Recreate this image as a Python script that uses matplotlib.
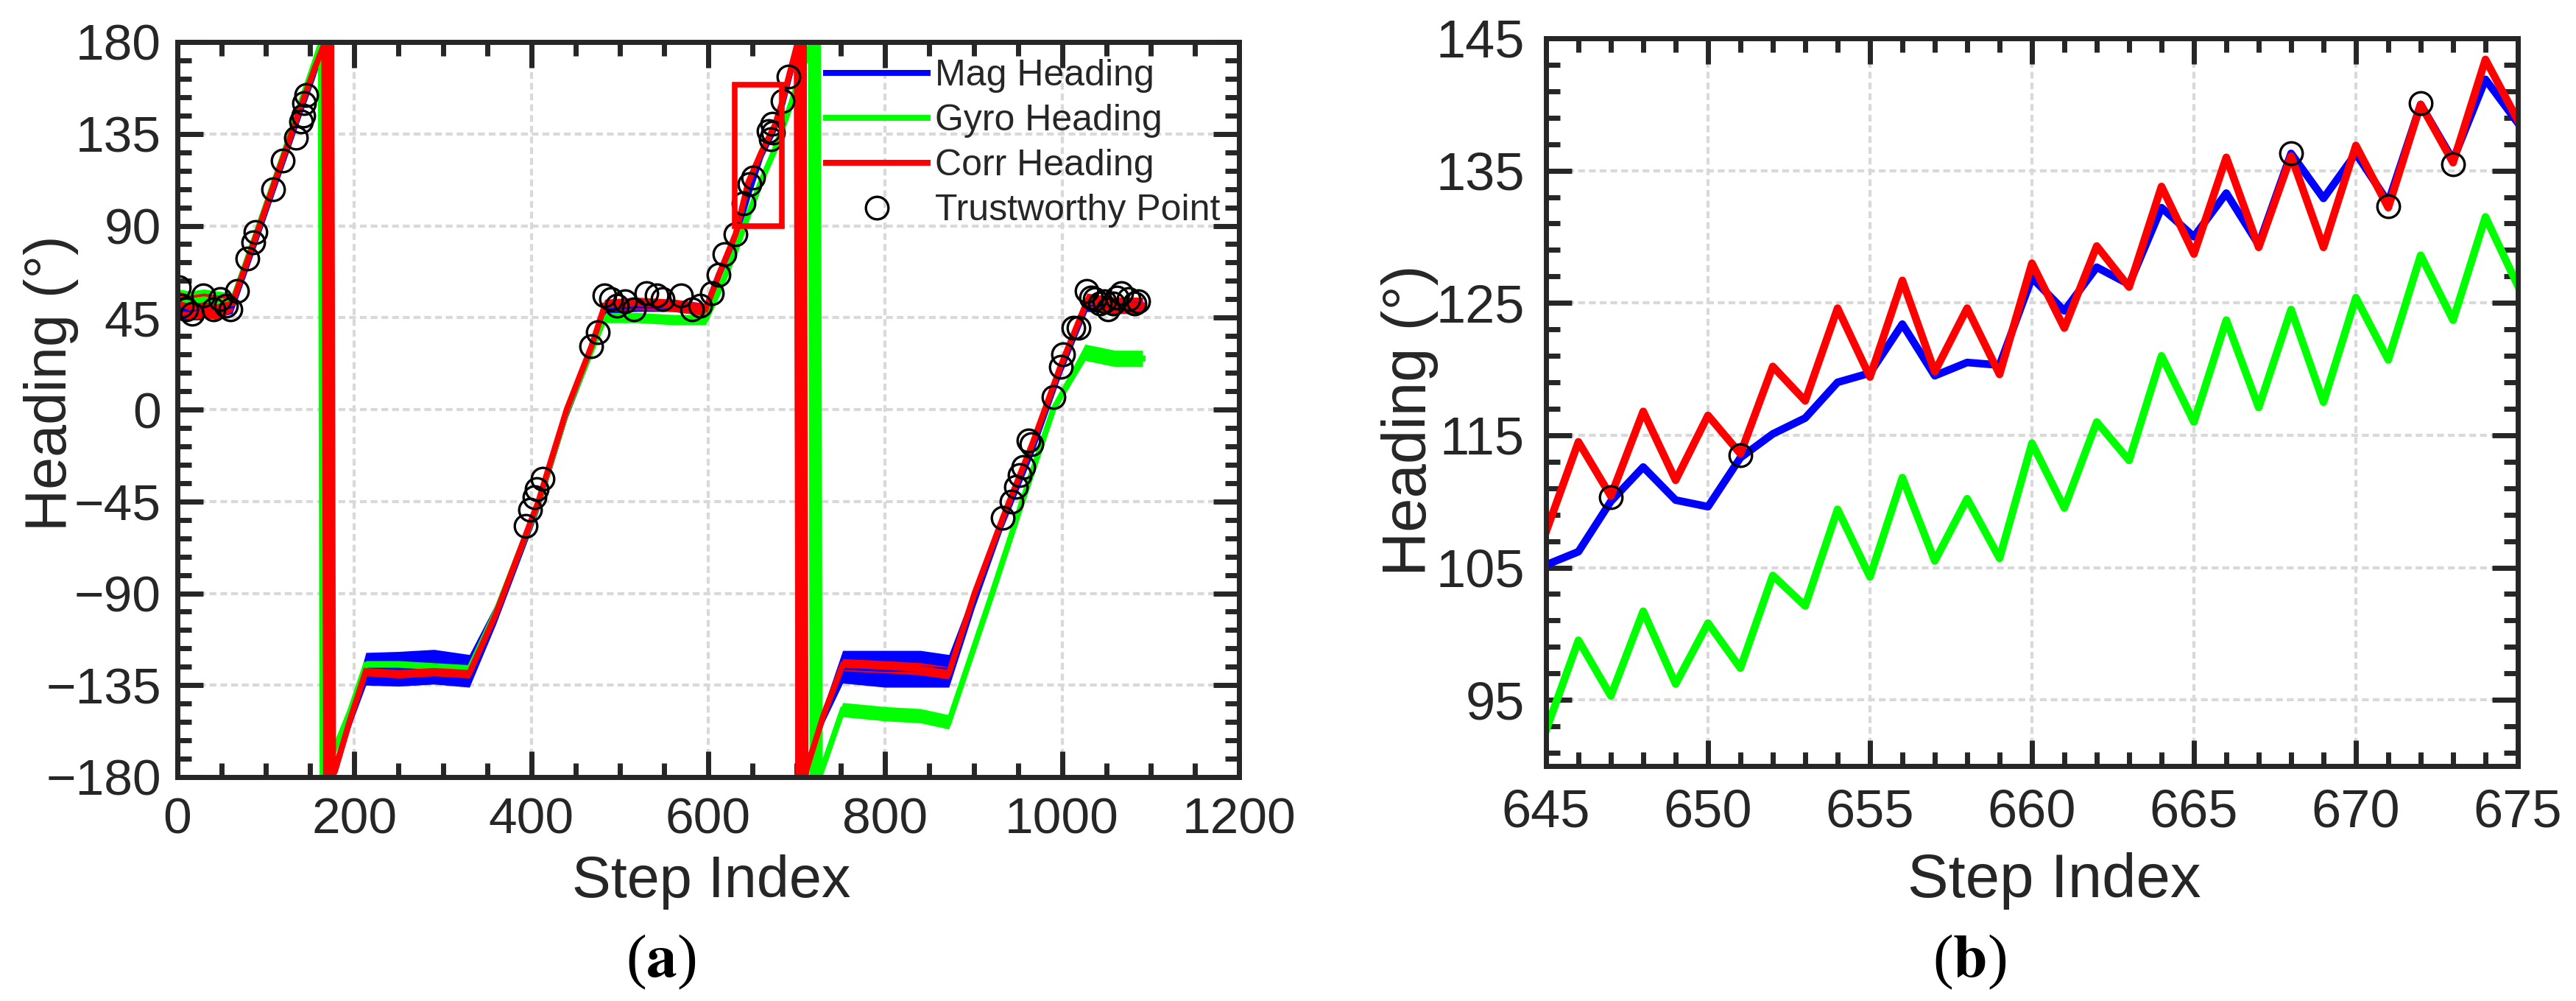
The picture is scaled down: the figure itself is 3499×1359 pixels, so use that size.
import numpy as np
import matplotlib.pyplot as plt
from matplotlib.ticker import MultipleLocator, FixedLocator
from matplotlib.patches import Rectangle

plt.rcParams['font.family'] = ['Liberation Sans', 'DejaVu Sans']
plt.rcParams['mathtext.fontset'] = 'stix'

# -----------------------
# Data (a): whole walk at break points
# -----------------------
mag_step = [0, 15, 30, 45, 62, 80, 100, 120, 140, 155, 167, 168, 178, 195, 213, 250, 290, 330, 360, 408,
            440, 468, 483, 520, 560, 597, 612, 631, 645, 660, 675, 684, 691, 701, 702, 712, 730, 752, 800, 840,
            872, 901, 933, 967, 998, 1028, 1060, 1091]
mag_head = [50, 49, 51, 50, 51, 73, 98, 123, 148, 166, 179, -179, -177, -152, -127, -127, -126, -128, -100, -46,
            -1, 30, 50, 51, 51, 49, 66, 85, 105, 125, 138, 150, 162, 179, -179, -175, -150, -126, -127, -127,
            -128, -92, -54, -18, 20, 52, 51, 51]
mag_band = [5, 5, 5, 5, 4, 4, 4, 4, 4, 4, 0, 0, 0, 4, 8, 8.5, 8.5, 8, 5, 4,
            4, 4, 3, 3, 3, 3, 3, 3, 3, 3, 3, 3, 2, 0, 0, 0, 4, 8, 9, 9,
            8, 5, 4, 4, 4, 4, 4, 4]

gyro_step = [0, 15, 30, 45, 62, 80, 100, 120, 140, 152, 162, 164, 166, 180, 195, 213, 250, 290, 330, 360,
             408, 440, 468, 483, 520, 560, 597, 612, 631, 645, 660, 675, 693, 705, 716, 718, 720, 722, 724, 726,
             728, 752, 800, 840, 872, 921, 955, 990, 1026, 1060, 1091]
gyro_head = [54, 53, 54, 53, 53, 75, 100, 125, 151, 166, 179, -179, -178, -164, -148, -125, -125, -126, -127, -99,
             -46, -1, 29, 45, 45, 44, 44, 58, 78, 95, 112, 127, 149, 165, 179, -179, 179, -179, 179, -179,
             -177, -147, -149, -150, -153, -90, -45, 0, 28, 25, 25]
gyro_band = [5, 5, 5, 5, 4, 2, 2, 2, 2, 2, 0, 0, 0, 2, 2, 2, 2, 2, 2, 2,
             2, 2, 2, 2.5, 2.5, 2.5, 2.5, 2, 2, 2, 2, 2, 2, 2, 0, 0, 0, 0, 0, 0,
             0, 3.5, 3.5, 3.5, 3.5, 2, 2, 2, 4, 4, 4]

corr_step = [0, 15, 30, 45, 62, 80, 100, 120, 140, 155, 166, 168, 170, 172, 174, 176, 178, 195, 213, 250,
             290, 330, 360, 408, 440, 468, 483, 520, 560, 597, 612, 631, 645, 660, 675, 684, 691, 700, 702, 704,
             706, 708, 710, 712, 730, 752, 800, 840, 872, 901, 933, 967, 998, 1028, 1060, 1091]
corr_head = [52, 50, 51, 50, 52, 74, 99, 124, 149, 167, 179, -179, 179, -179, 179, -179, -177, -152, -128, -129,
             -128, -129, -100, -45, 0, 31, 51, 52, 51, 49, 66, 86, 111, 126, 139, 151, 163, 178, -179, 179,
             -179, 179, -179, -175, -150, -125, -126, -127, -129, -90, -53, -16, 21, 53, 51, 51]
corr_band = [6, 6, 6, 6, 4, 3, 3, 3, 3, 3, 0, 0, 0, 0, 0, 0, 0, 3, 2.5, 2.5,
             2.5, 2.5, 3, 3, 3, 3, 3, 3, 3, 3, 3, 3, 3, 3, 3, 3, 2, 0, 0, 0,
             0, 0, 0, 0, 3, 3, 3, 3, 3, 3, 3, 3, 3, 4, 4, 4]

trust_step = [2, 5, 10, 17, 29, 41, 48, 55, 60, 67, 79, 86, 88, 108, 119, 134, 140, 142, 143, 146,
              394, 399, 404, 406, 413, 468, 475, 483, 490, 497, 506, 516, 530, 542, 548, 569, 582, 591, 604, 612,
              618, 631, 640, 647, 651, 668, 671, 672, 673, 684, 691, 933, 943, 948, 952, 956, 962, 965, 990, 999,
              1001, 1013, 1019, 1028, 1033, 1037, 1043, 1048, 1052, 1058, 1062, 1067, 1075, 1082, 1086]
trust_head = [60, 51, 49, 47, 56, 49, 54, 51, 49, 58, 74, 82, 87, 108, 122, 133, 141, 144, 150, 154,
              -57, -49, -43, -39, -34, 31, 38, 56, 54, 51, 53, 49, 57, 56, 54, 56, 49, 51, 57, 66,
              76, 86, 101, 110.3, 113.5, 136.3, 132.3, 140.1, 135.5, 151, 163, -53, -45, -38, -32, -28, -15, -17, 6, 21,
              27, 40, 40, 58, 55, 54, 52, 53, 49, 52, 55, 57, 54, 52, 53]

# zoomed window marked on (a)
box_step = (630, 683)
box_head = (90, 159)

# -----------------------
# Data (b): steps 645..675
# -----------------------
zoom_step = list(range(645, 676))
mag_zoom = [105.2, 106.2, 110.0, 112.6, 110.1, 109.6, 113.3, 115.1, 116.3, 119.0, 119.7, 123.4, 119.5, 120.5, 120.3,
            126.9, 124.4, 127.7, 126.4, 132.2, 130.0, 133.3, 129.4, 136.3, 132.9, 136.3, 132.6, 140.0, 135.8, 141.9,
            138.6]
gyro_zoom = [92.7, 99.5, 95.3, 101.7, 96.2, 100.8, 97.4, 104.4, 102.1, 109.4, 104.3, 111.8, 105.5, 110.2, 105.7,
             114.4, 109.5, 116.0, 113.1, 121.0, 116.0, 123.7, 117.1, 124.5, 117.5, 125.4, 120.7, 128.6, 123.7, 131.5,
             126.3]
corr_zoom = [107.7, 114.5, 110.4, 116.8, 111.6, 116.5, 113.6, 120.2, 117.6, 124.6, 119.4, 126.7, 119.8, 124.6, 119.6,
             128.0, 123.1, 129.3, 126.2, 133.8, 128.7, 136.0, 129.2, 136.1, 129.2, 136.9, 132.2, 140.0, 135.6, 143.4,
             138.8]
trust_zoom_step = [647, 651, 668, 671, 672, 673]
trust_zoom_head = [110.3, 113.5, 136.3, 132.3, 140.1, 135.5]

labels = ["Mag Heading", "Gyro Heading", "Corr Heading", "Trustworthy Point"]
colors = ["#0000ff", "#00ff00", "#ff0000"]
dark = "#262626"

W, H = 3499, 1359
fig = plt.figure(figsize=(W / 100, H / 100), dpi=100)
ax1 = fig.add_axes([241 / W, 1 - 1055 / H, 1442 / W, 998 / H])
ax2 = fig.add_axes([2100 / W, 1 - 1040 / H, 1320 / W, 988 / H])


def style(ax, size, xpad, ypad):
    ax.tick_params(which='both', direction='in', top=True, right=True, color=dark, width=5)
    ax.tick_params(which='major', length=25, labelsize=size, labelcolor=dark)
    ax.tick_params(which='minor', length=14)
    ax.tick_params(axis='x', which='major', pad=xpad)
    ax.tick_params(axis='y', which='major', pad=ypad)
    for s in ax.spines.values():
        s.set_linewidth(5)
        s.set_color(dark)
    ax.grid(True, which='major', color='#d9d9d9', linestyle=(0, (2.2, 1.3)), linewidth=3)
    ax.set_axisbelow(True)


# -----------------------
# (a)
# -----------------------
series = [(mag_step, mag_head, mag_band), (gyro_step, gyro_head, gyro_band), (corr_step, corr_head, corr_band)]
lines = []
for (st, hd, bd), c in zip(series, colors):
    st, hd, bd = np.array(st), np.array(hd, float), np.array(bd, float)
    ax1.fill_between(st, hd - bd, hd + bd, color=c, lw=0)
    ln, = ax1.plot(st, hd, color=c, lw=5.8, solid_joinstyle='miter')
    lines.append(ln)
pts, = ax1.plot(trust_step, trust_head, 'o', mfc='none', mec='k', ms=22, mew=2.4)
lines.append(pts)

ax1.add_patch(Rectangle((box_step[0], box_head[0]), box_step[1] - box_step[0], box_head[1] - box_head[0],
                        fill=False, edgecolor='#ff0000', lw=5.5, zorder=5))

ax1.set_xlim(0, 1200)
ax1.set_ylim(-180, 180)
ax1.xaxis.set_major_locator(MultipleLocator(200))
ax1.xaxis.set_minor_locator(MultipleLocator(50))
ax1.yaxis.set_major_locator(MultipleLocator(45))
ax1.yaxis.set_minor_locator(MultipleLocator(9))
style(ax1, 50, 19, 16)

ax1.set_xlabel("Step Index", fontsize=57, color=dark)
ax1.xaxis.set_label_coords(0.503, -0.163)
ax1.xaxis.label.set_va('baseline')
ax1.set_ylabel("Heading (°)", fontsize=57, color=dark)
ax1.yaxis.set_label_coords(-0.119, 0.536)
ax1.yaxis.label.set_va('center')

leg = ax1.legend(lines, labels, loc='upper left', bbox_to_anchor=(1122 / W, 1 - 80 / H),
                 bbox_transform=fig.transFigure, frameon=False, fontsize=36, handlelength=2.76,
                 handletextpad=0.2, labelspacing=0.3, borderpad=0, borderaxespad=0)
for t in leg.get_texts():
    t.set_color(dark)

# -----------------------
# (b)
# -----------------------
ax2.plot(zoom_step, mag_zoom, color=colors[0], lw=7.5)
ax2.plot(zoom_step, gyro_zoom, color=colors[1], lw=7.5)
ax2.plot(zoom_step, corr_zoom, color=colors[2], lw=7.5)
ax2.plot(trust_zoom_step, trust_zoom_head, 'o', mfc='none', mec='k', ms=22, mew=2.4)

ax2.set_xlim(645, 675)
ax2.set_ylim(90, 145)
ax2.xaxis.set_major_locator(MultipleLocator(5))
ax2.xaxis.set_minor_locator(MultipleLocator(1))
ax2.yaxis.set_major_locator(FixedLocator([95, 105, 115, 125, 135, 145]))
ax2.yaxis.set_minor_locator(FixedLocator(np.arange(91, 145, 2)))
style(ax2, 52, 22, 21)

ax2.set_xlabel("Step Index", fontsize=60, color=dark)
ax2.xaxis.set_label_coords(0.523, -0.180)
ax2.xaxis.label.set_va('baseline')
ax2.set_ylabel("Heading (°)", fontsize=60, color=dark)
ax2.yaxis.set_label_coords(-0.140, 0.475)
ax2.yaxis.label.set_va('center')

# panel tags
fig.text(898 / W, 1 - 1306 / H, r"($\mathbf{a}$)", fontsize=60, family='Liberation Serif',
         ha='center', va='center')
fig.text(2675 / W, 1 - 1306 / H, r"($\mathbf{b}$)", fontsize=60, family='Liberation Serif',
         ha='center', va='center')

fig.savefig("out.png", dpi=100, facecolor='white')
